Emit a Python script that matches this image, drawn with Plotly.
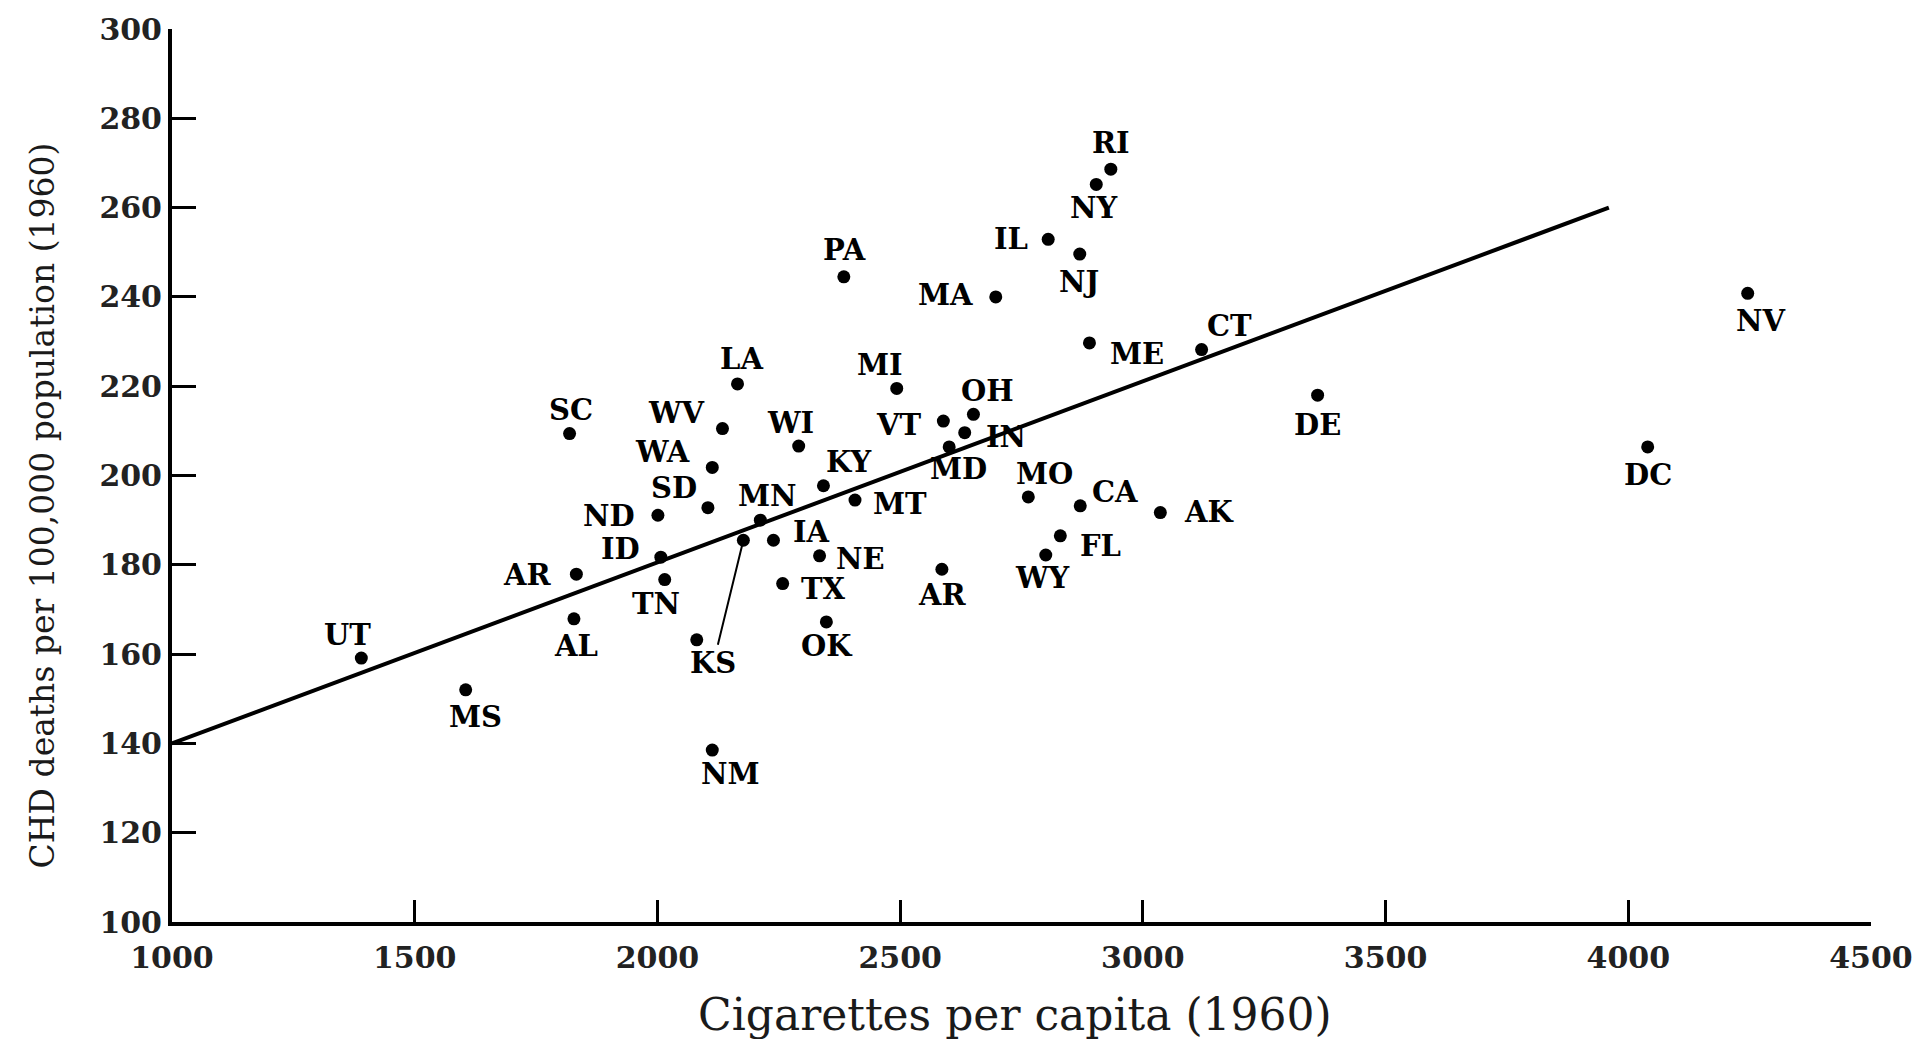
import plotly.graph_objects as go

# ---- data ----
states = ["RI", "NY", "IL", "NJ", "PA", "MA", "NV", "ME", "CT", "LA", "MI", "DE",
          "OH", "VT", "IN", "MD", "SC", "WV", "WI", "DC", "WA", "KY", "MO", "MT",
          "CA", "SD", "AK", "ND", "MN", "KS", "IA", "FL", "WY", "NE", "ID", "AR",
          "AR", "TN", "TX", "AL", "OK", "", "UT", "MS", "NM"]
cigarettes = [2934, 2904, 2805, 2870, 2384, 2697, 4246, 2890, 3121, 2165, 2493, 3360,
              2651, 2589, 2633, 2601, 1819, 2134, 2291, 4040, 2113, 2342, 2764, 2407,
              2871, 2104, 3036, 2001, 2212, 2177, 2239, 2830, 2800, 2334, 2007, 2586,
              1833, 2015, 2258, 1828, 2348, 2081, 1390, 1605, 2113]
chd_deaths = [268.6, 265.2, 252.9, 249.6, 244.5, 240.0, 240.8, 229.7, 228.2, 220.5, 219.5, 218.0,
              213.7, 212.2, 209.6, 206.4, 209.4, 210.5, 206.6, 206.4, 201.8, 197.7, 195.2, 194.5,
              193.2, 192.8, 191.7, 191.1, 190.0, 185.5, 185.5, 186.5, 182.2, 182.0, 181.7, 179.0,
              177.9, 176.7, 175.8, 167.9, 167.2, 163.2, 159.1, 152.0, 138.5]
fit_x = [1000, 3960]
fit_y = [140, 260]
x_ticks = [1000, 1500, 2000, 2500, 3000, 3500, 4000, 4500]
y_ticks = [100, 120, 140, 160, 180, 200, 220, 240, 260, 280, 300]
x_title = "Cigarettes per capita (1960)"
y_title = "CHD deaths per 100,000 population (1960)"

# ---- label placement (pixel offsets from each dot: right, down) ----
label_offsets = [(0, -26), (-2, 24), (-37, 0), (-1, 28), (1, -27), (-50, -2), (13, 28), (48, 11),
                 (28, -24), (4, -25), (-17, -23), (0, 30), (14, -23), (-44, 4), (41, 4), (9, 22),
                 (1, -24), (-46, -16), (-8, -23), (0, 28), (-50, -15), (25, -24), (16, -23), (45, 4),
                 (35, -14), (-34, -20), (49, -1), (-49, 1), (7, -24), (-30, 123), (38, -8), (40, 10),
                 (-3, 23), (41, 3), (-40, -8), (1, 26), (-49, 1), (-9, 24), (41, 5), (2, 27),
                 (1, 24), (0, 0), (-14, -23), (10, 27), (18, 24)]
leader_labels = {"KS"}

FONT = "DejaVu Serif"
label_font = dict(family=FONT, size=29, color="black", weight="bold")

fig = go.Figure()
fig.add_trace(go.Scatter(x=fit_x, y=fit_y, mode="lines",
                         line=dict(color="black", width=4), showlegend=False, hoverinfo="skip"))
fig.add_trace(go.Scatter(x=cigarettes, y=chd_deaths, mode="markers",
                         marker=dict(color="black", size=13), showlegend=False,
                         text=states))

annotations = []
for name, cx, cy, (dx, dy) in zip(states, cigarettes, chd_deaths, label_offsets):
    if not name:
        continue
    if name in leader_labels:
        annotations.append(dict(x=cx, y=cy, text=name, showarrow=True, arrowhead=0,
                                arrowwidth=2, arrowcolor="black", ax=dx, ay=dy,
                                standoff=0, font=label_font))
    else:
        annotations.append(dict(x=cx, y=cy, text=name, showarrow=False,
                                xshift=dx, yshift=-dy, font=label_font))

# axis titles as annotations (placed in plot-area paper coordinates)
annotations.append(dict(x=0.496, y=-0.1035, xref="paper", yref="paper", text=x_title,
                        showarrow=False, xanchor="center", yanchor="middle",
                        font=dict(family=FONT, size=44, color="#1a1a1a")))
annotations.append(dict(x=-0.0765, y=0.4665, xref="paper", yref="paper", text=y_title,
                        showarrow=False, xanchor="center", yanchor="middle", textangle=-90,
                        font=dict(family=FONT, size=33, color="#1a1a1a")))

tick_font = dict(family=FONT, size=30, color="#222", weight="bold")

fig.update_layout(
    width=1921, height=1039,
    margin=dict(l=172, r=50, t=29, b=117, autoexpand=False),
    plot_bgcolor="white", paper_bgcolor="white",
    annotations=annotations,
    font=dict(family=FONT, color="black"),
    xaxis=dict(range=[1000, 4500], tickvals=x_ticks, ticks="inside", ticklen=22,
               tickwidth=3, tickcolor="black", showline=True, linecolor="black",
               linewidth=4, showgrid=False, zeroline=False, ticklabelstandoff=6,
               ticklabeloverflow="allow", automargin=False, tickfont=tick_font),
    yaxis=dict(range=[100, 300], tickvals=y_ticks, ticks="inside", ticklen=24,
               tickwidth=3, tickcolor="black", showline=True, linecolor="black",
               linewidth=4, showgrid=False, zeroline=False,
               ticklabeloverflow="allow", automargin=False, tickfont=tick_font),
)

fig.write_html(
    "out.html",
    config={"displayModeBar": False},
    post_script="document.body.style.margin='0';document.documentElement.style.overflow='hidden';",
)
